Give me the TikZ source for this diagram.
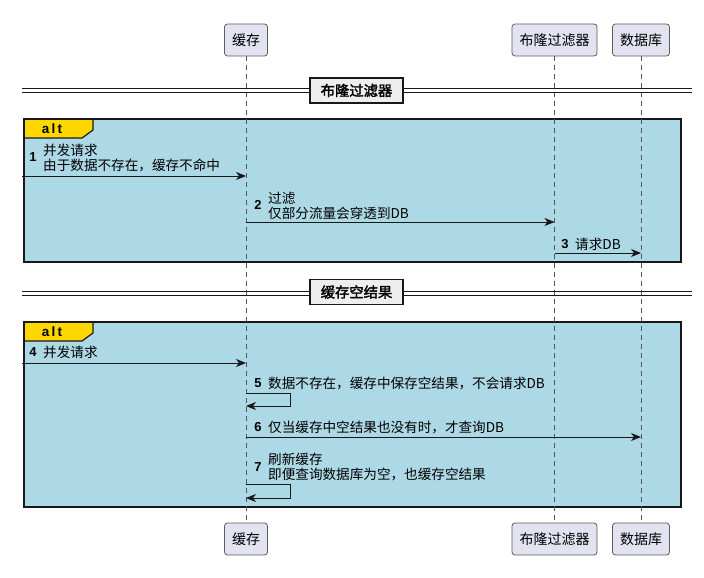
\documentclass[tikz,border=0pt]{standalone}
\usepackage{fontspec}
\setmainfont{Noto Sans CJK SC}
\newfontfamily\cjkbold{Noto Sans CJK SC}[FakeBold=2.2]
\newfontfamily\numfont{Liberation Sans}
\usetikzlibrary{arrows.meta}
\definecolor{partfill}{HTML}{E2E2F0}
\definecolor{linecol}{HTML}{181818}
\definecolor{altfill}{HTML}{ADD8E6}
\definecolor{tabfill}{HTML}{FFD700}
\definecolor{divfill}{HTML}{EEEEEE}
\definecolor{lifecol}{HTML}{555555}
\tikzset{
  part/.style={draw=linecol!70, line width=0.8pt, fill=partfill, rounded corners=3pt,
    minimum height=32pt, inner xsep=7.5pt, inner ysep=0pt, font=\fontsize{14}{16}\selectfont},
  life/.style={draw=lifecol, line width=0.8pt, dash pattern=on 5pt off 4pt},
  altframe/.style={draw=linecol, line width=1.6pt, fill=altfill},
  alttab/.style={draw=linecol, line width=1.2pt, fill=tabfill},
  divline/.style={draw=linecol, line width=1.1pt},
  divlabel/.style={draw=linecol, line width=1.8pt, fill=divfill, minimum width=93pt,
    minimum height=25pt, inner sep=0pt, font=\cjkbold\fontsize{14.3}{16}\selectfont},
  msg/.style={draw=linecol, line width=0.9pt, -{Stealth[length=10pt,width=8pt,inset=3pt]}},
  msgtext/.style={anchor=west, inner sep=0pt, align=left, font=\fontsize{13.6}{15.5}\selectfont},
  num/.style={inner sep=0pt, font=\numfont\bfseries\fontsize{13}{15}\selectfont},
  alttext/.style={inner sep=0pt, font=\numfont\bfseries\fontsize{13.5}{15}\selectfont}
}
\begin{document}
\begin{tikzpicture}[x=1pt,y=-1pt]
\useasboundingbox (0,0) rectangle (704,578);
\fill[white] (0,0) rectangle (704,578);

% alt frames
\draw[altframe] (24,119) rectangle (681,262);
\draw[alttab] (24,119) -- (93,119) -- (93,130) -- (82,138) -- (24,138) -- cycle;
\draw[linecol, line width=1.6pt] (24,119) rectangle (681,262);
\node[alttext] (alt1) at (52,129) {a\,l\,t};

\draw[altframe] (24,322) rectangle (681,507);
\draw[alttab] (24,322) -- (93,322) -- (93,333) -- (82,341) -- (24,341) -- cycle;
\draw[linecol, line width=1.6pt] (24,322) rectangle (681,507);
\node[alttext] (alt2) at (52,332) {a\,l\,t};

% participants
\node[part] (c1) at (246,40) {缓存};
\node[part] (b1) at (554.5,40) {布隆过滤器};
\node[part] (d1) at (641,40) {数据库};
\node[part] (c2) at (246,539) {缓存};
\node[part] (b2) at (554.5,539) {布隆过滤器};
\node[part] (d2) at (641,539) {数据库};

% lifelines
\draw[life] (c1.south) -- (c2.north);
\draw[life] (b1.south) -- (b2.north);
\draw[life] (d1.south) -- (d2.north);

% dividers
\coordinate (dv1l) at (22,90.5);
\coordinate (dv1r) at (692,90.5);
\draw[divline] ([yshift=-1.6pt]dv1l) -- ([yshift=-1.6pt]dv1r);
\draw[divline] ([yshift=1.6pt]dv1l) -- ([yshift=1.6pt]dv1r);
\node[divlabel] (dl1) at (356.5,90.5) {布隆过滤器};

\coordinate (dv2l) at (22,293.5);
\coordinate (dv2r) at (692,293.5);
\draw[divline] ([yshift=-1.6pt]dv2l) -- ([yshift=-1.6pt]dv2r);
\draw[divline] ([yshift=1.6pt]dv2l) -- ([yshift=1.6pt]dv2r);
\node[divlabel] (dl2) at (356.5,292) {缓存空结果};

% message 1
\coordinate (m1a) at (22,176);
\coordinate (m1b) at (c1.center |- m1a);
\draw[msg] (m1a) -- (m1b);
\node[num] (n1) at (33,157) {1};
\node[msgtext] (t1) at (43,158) {并发请求\\由于数据不存在，缓存不命中};

% message 2
\coordinate (m2a) at (c1.center |- 0,222);
\coordinate (m2b) at (b1.center |- 0,222);
\draw[msg] (m2a) -- (m2b);
\node[num] (n2) at (258,205) {2};
\node[msgtext] (t2) at (268,206) {过滤\\仅部分流量会穿透到DB};

% message 3
\coordinate (m3a) at (b1.center |- 0,253);
\coordinate (m3b) at (d1.center |- 0,253);
\draw[msg] (m3a) -- (m3b);
\node[num] (n3) at (565,244) {3};
\node[msgtext] (t3) at (575,244) {请求DB};

% message 4
\coordinate (m4a) at (22,363);
\coordinate (m4b) at (c1.center |- m4a);
\draw[msg] (m4a) -- (m4b);
\node[num] (n4) at (33,352) {4};
\node[msgtext] (t4) at (43,352) {并发请求};

% message 5 (self)
\coordinate (m5a) at (c1.center |- 0,393);
\coordinate (m5b) at (c1.center |- 0,406);
\draw[msg] (m5a) -- ++(44,0) -- ++(0,13) -- (m5b);
\node[num] (n5) at (258,383) {5};
\node[msgtext] (t5) at (268,383) {数据不存在，缓存中保存空结果，不会请求DB};

% message 6
\coordinate (m6a) at (c1.center |- 0,437);
\coordinate (m6b) at (d1.center |- 0,437);
\draw[msg] (m6a) -- (m6b);
\node[num] (n6) at (258,427) {6};
\node[msgtext] (t6) at (268,427) {仅当缓存中空结果也没有时，才查询DB};

% message 7 (self)
\coordinate (m7a) at (c1.center |- 0,484);
\coordinate (m7b) at (c1.center |- 0,498);
\draw[msg] (m7a) -- ++(44,0) -- ++(0,14) -- (m7b);
\node[num] (n7) at (258,467) {7};
\node[msgtext] (t7) at (268,467) {刷新缓存\\即便查询数据库为空，也缓存空结果};
\end{tikzpicture}
\end{document}
